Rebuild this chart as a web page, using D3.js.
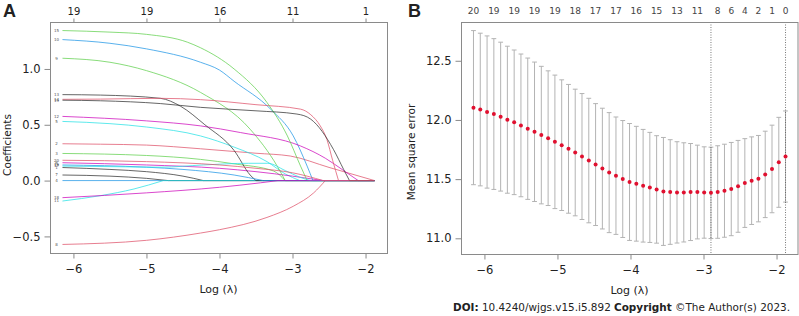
<!DOCTYPE html>
<html>
<head>
<meta charset="utf-8">
<script src="https://cdn.jsdelivr.net/npm/d3@7"></script>
<style>
  body { margin: 0; background: #fff; }
  svg { display: block; }
  text { font-family: 'DejaVu Sans', Verdana, sans-serif; fill: #222; }
</style>
</head>
<body>
<div id="chart"></div>
<script>
// ---- panel A: lasso coefficient paths, knots [log(lambda), coef]
const v1 = [[-6.15, 0.117], [-5.5, 0.10], [-5.0, 0.08], [-4.5, 0.04], [-4.22, 0]]
const v2 = [[-6.15, 0.33], [-5.63, 0.326], [-5.0, 0.318], [-4.26, 0.285], [-3.5, 0.245], [-3.03, 0.22], [-2.5, 0.118], [-1.877, 0]]
const v3 = [[-6.15, 0.243], [-5.0, 0.225], [-4.26, 0.19], [-3.8, 0.15], [-3.26, 0.086], [-3.1, 0]]
const v4 = [[-6.15, 0]]
const v5 = [[-6.15, 0.53], [-5.5, 0.51], [-5.0, 0.48], [-4.26, 0.40], [-3.8, 0.30], [-3.35, 0.17], [-3.1, 0.06], [-2.9, 0]]
const v6 = [[-6.15, 0.16], [-5.0, 0.14], [-4.0, 0.11], [-3.5, 0.08], [-3.0, 0.04], [-2.58, 0]]
const v7 = [[-6.15, 0.05], [-5.5, 0.04], [-5.0, 0.02], [-4.7, 0]]
const v8 = [[-6.15, -0.572], [-5.0, -0.535], [-4.26, -0.47], [-4.0, -0.44], [-3.35, -0.33], [-2.99, -0.23], [-2.71, -0.11], [-2.55, 0]]
const v9 = [[-6.15, 1.096], [-5.5, 1.06], [-5.0, 0.985], [-4.26, 0.79], [-3.58, 0.46], [-3.21, 0.13], [-3.1, 0]]
const v10 = [[-6.15, 1.263], [-5.5, 1.23], [-5.0, 1.18], [-4.26, 1.06], [-4.0, 0.99], [-3.8, 0.89], [-3.3, 0.64], [-2.99, 0.40], [-2.8, 0.13], [-2.72, 0]]
const v11 = [[-6.15, -0.183], [-5.63, -0.135], [-5.17, -0.075], [-4.77, 0]]
const v12 = [[-6.15, 0.575], [-5.0, 0.535], [-4.26, 0.49], [-3.71, 0.43], [-2.89, 0.31], [-2.55, 0.2], [-2.3, 0.09], [-2.1, 0]]
const v13 = [[-6.15, 0.77], [-5.63, 0.766], [-4.81, 0.737], [-4.53, 0.665], [-4.2, 0.5], [-3.8, 0.27], [-3.58, 0.05], [-3.5, 0]]
const v14 = [[-6.15, 0.728], [-5.63, 0.73], [-4.81, 0.737], [-4.26, 0.725], [-3.5, 0.68], [-2.89, 0.64], [-2.75, 0.59], [-2.62, 0.49], [-2.53, 0.37], [-2.45, 0.18], [-2.37, 0]]
const v15 = [[-6.15, 1.344], [-5.5, 1.33], [-5.0, 1.31], [-4.44, 1.24], [-4.26, 1.19], [-3.8, 1.0], [-3.35, 0.70], [-3.07, 0.40], [-2.89, 0.13], [-2.8, 0]]
const v16 = [[-6.15, 0.14], [-5.0, 0.12], [-4.5, 0.1], [-3.8, 0.05], [-3.4, 0]]
const v17 = [[-6.15, 0.13], [-5.5, 0.125], [-4.8, 0.12], [-4.22, 0.14], [-3.6, 0.155], [-3.34, 0.155], [-3.1, 0.09], [-2.9, 0.03], [-2.75, 0]]
const v18 = [[-6.15, -0.153], [-5.0, -0.11], [-4.0, -0.06], [-3.44, -0.02], [-3.2, 0]]
const v19 = [[-6.15, 0.72], [-5.63, 0.715], [-4.81, 0.69], [-4.26, 0.656], [-3.5, 0.625], [-2.94, 0.596], [-2.75, 0.55], [-2.44, 0.28], [-2.3, 0.10], [-2.22, 0]]
const v20 = [[-6.15, 0.182], [-5.0, 0.17], [-4.0, 0.14], [-3.5, 0.11], [-3.0, 0.07], [-2.58, 0]]
const coefPaths = [v1, v2, v3, v4, v5, v6, v7, v8, v9, v10, v11, v12, v13, v14, v15, v16, v17, v18, v19, v20]

const topTicksA = [-6, -5, -4, -3, -2]
const topLabelsA = [19, 19, 16, 11, 1]
const yTicksA = [-0.5, 0, 0.5, 1.0]

// ---- panel B: cross-validation curve
const logLambda = [-6.150, -6.057, -5.964, -5.871, -5.778, -5.686, -5.593, -5.500, -5.407, -5.314,
  -5.221, -5.128, -5.035, -4.942, -4.849, -4.757, -4.664, -4.571, -4.478, -4.385,
  -4.292, -4.199, -4.106, -4.013, -3.920, -3.827, -3.735, -3.642, -3.549, -3.456,
  -3.363, -3.270, -3.177, -3.084, -2.991, -2.898, -2.806, -2.713, -2.620, -2.527,
  -2.434, -2.341, -2.248, -2.155, -2.062, -1.969, -1.877]
const cvMean = [12.104, 12.088, 12.067, 12.050, 12.028, 12.002, 11.980, 11.954, 11.926, 11.900,
  11.872, 11.846, 11.815, 11.787, 11.756, 11.725, 11.691, 11.657, 11.623, 11.589,
  11.555, 11.529, 11.501, 11.476, 11.461, 11.444, 11.430, 11.413, 11.396, 11.391,
  11.388, 11.388, 11.391, 11.391, 11.387, 11.384, 11.391, 11.402, 11.416, 11.439,
  11.467, 11.487, 11.504, 11.540, 11.586, 11.642, 11.691]
const cvSd = [0.651, 0.645, 0.643, 0.637, 0.629, 0.621, 0.611, 0.603, 0.597, 0.589,
  0.581, 0.569, 0.564, 0.552, 0.544, 0.535, 0.532, 0.526, 0.515, 0.510,
  0.507, 0.496, 0.494, 0.494, 0.485, 0.476, 0.465, 0.454, 0.456, 0.442,
  0.428, 0.419, 0.410, 0.396, 0.386, 0.386, 0.391, 0.393, 0.394, 0.388,
  0.375, 0.370, 0.365, 0.365, 0.370, 0.380, 0.385]
const nzeroIdx = [0, 3, 6, 9, 12, 15, 18, 21, 24, 27, 30, 33, 36, 38, 40, 42, 44, 46]
const nzeroLabels = [20, 19, 19, 19, 19, 18, 17, 17, 16, 15, 13, 11, 8, 6, 4, 2, 1, 0]
const lambdaMin = -2.898
const lambda1se = -1.877
const xTicks = [-6, -5, -4, -3, -2]
const yTicksB = [11.0, 11.5, 12.0, 12.5]

const palette = ['#333333', '#DF536B', '#61D04F', '#2297E6', '#28E2E5', '#CD0BBC']

const svg = d3.select('#chart').append('svg')
  .attr('width', 799).attr('height', 316)
svg.append('rect').attr('width', 799).attr('height', 316).attr('fill', '#fff')

function pad(ext) {
  const d = (ext[1] - ext[0]) * 0.04
  return [ext[0] - d, ext[1] + d]
}

const lamExt = d3.extent(logLambda)

// ================= panel A =================
const boxA = { left: 50, right: 387, top: 22, bottom: 253 }
const allCoef = coefPaths.flat().map(d => d[1])
const xA = d3.scaleLinear().domain(pad(lamExt)).range([boxA.left, boxA.right])
const yA = d3.scaleLinear().domain(pad(d3.extent(allCoef))).range([boxA.bottom, boxA.top])

const gA = svg.append('g')

const lineA = d3.line()
  .x(d => xA(d[0]))
  .y(d => yA(d[1]))
  .curve(d3.curveMonotoneX)

coefPaths.forEach((pts, i) => {
  let dStr = pts.length > 1 ? lineA(pts) : 'M' + xA(pts[0][0]) + ',' + yA(pts[0][1])
  const last = pts[pts.length - 1]
  if (last[0] < lamExt[1]) dStr += 'L' + xA(lamExt[1]) + ',' + yA(0)
  gA.append('path')
    .attr('d', dStr)
    .attr('fill', 'none')
    .attr('stroke', palette[i % 6])
    .attr('stroke-width', 1)
    .attr('opacity', 0.75)
})

// variable numbers at the left end of each path
coefPaths.forEach((pts, i) => {
  gA.append('text')
    .text(i + 1)
    .attr('x', xA(pts[0][0]) - 6)
    .attr('y', yA(pts[0][1]) + 1.4)
    .attr('text-anchor', 'middle')
    .attr('font-size', '4px')
    .style('fill', '#555')
})

gA.append('rect')
  .attr('x', boxA.left + 0.5).attr('y', boxA.top + 0.5)
  .attr('width', boxA.right - boxA.left).attr('height', boxA.bottom - boxA.top)
  .attr('fill', 'none').attr('stroke', '#8a8a8a')

gA.append('g')
  .attr('transform', 'translate(0,' + (boxA.bottom + 0.5) + ')')
  .call(d3.axisBottom(xA).tickValues(xTicks).tickFormat(d3.format('d')).tickSize(5).tickPadding(6))
  .call(g => g.select('.domain').remove())
gA.append('g')
  .attr('transform', 'translate(0,' + (boxA.top + 0.5) + ')')
  .call(d3.axisTop(xA).tickValues(topTicksA).tickFormat((d, i) => topLabelsA[i]).tickSize(4).tickPadding(4))
  .call(g => g.select('.domain').remove())
  .selectAll('text').attr('font-size', '10px')
gA.append('g')
  .attr('transform', 'translate(' + (boxA.left + 0.5) + ',0)')
  .call(d3.axisLeft(yA).tickValues(yTicksA).tickFormat(d3.format('.1f')).tickSize(6).tickPadding(4))
  .call(g => g.select('.domain').remove())

gA.append('text').text('Log (λ)')
  .attr('x', (boxA.left + boxA.right) / 2).attr('y', 293)
  .attr('text-anchor', 'middle').attr('font-size', '11px')
gA.append('text').text('Coefficients')
  .attr('transform', 'translate(11,145) rotate(-90)')
  .attr('text-anchor', 'middle').attr('font-size', '10.5px')
gA.append('text').text('A')
  .attr('x', 3).attr('y', 17)
  .style('font-family', 'Liberation Sans, Arial, sans-serif')
  .attr('font-weight', 'bold').attr('font-size', '18px')

// ================= panel B =================
const boxB = { left: 461, right: 798, top: 22, bottom: 254 }
const lowers = cvMean.map((m, i) => m - cvSd[i])
const uppers = cvMean.map((m, i) => m + cvSd[i])
const xB = d3.scaleLinear().domain(pad(lamExt)).range([boxB.left, boxB.right])
const yB = d3.scaleLinear().domain(pad([d3.min(lowers), d3.max(uppers)])).range([boxB.bottom, boxB.top])

const gB = svg.append('g')

const bars = gB.selectAll('.bar').data(logLambda).enter().append('g').attr('class', 'bar')
bars.append('line')
  .attr('x1', d => xB(d)).attr('x2', d => xB(d))
  .attr('y1', (d, i) => yB(lowers[i])).attr('y2', (d, i) => yB(uppers[i]))
  .attr('stroke', '#b3b3b3').attr('stroke-width', 1)
bars.append('line')
  .attr('x1', d => xB(d) - 2.4).attr('x2', d => xB(d) + 2.4)
  .attr('y1', (d, i) => yB(uppers[i])).attr('y2', (d, i) => yB(uppers[i]))
  .attr('stroke', '#b3b3b3').attr('stroke-width', 1)
bars.append('line')
  .attr('x1', d => xB(d) - 2.4).attr('x2', d => xB(d) + 2.4)
  .attr('y1', (d, i) => yB(lowers[i])).attr('y2', (d, i) => yB(lowers[i]))
  .attr('stroke', '#b3b3b3').attr('stroke-width', 1)

gB.selectAll('.vline').data([lambdaMin, lambda1se]).enter().append('line')
  .attr('class', 'vline')
  .attr('x1', d => xB(d)).attr('x2', d => xB(d))
  .attr('y1', boxB.top).attr('y2', boxB.bottom)
  .attr('stroke', '#555').attr('stroke-width', 0.8)
  .attr('stroke-dasharray', '1,1.5')

gB.selectAll('.dot').data(logLambda).enter().append('circle')
  .attr('class', 'dot')
  .attr('cx', d => xB(d))
  .attr('cy', (d, i) => yB(cvMean[i]))
  .attr('r', 2)
  .attr('fill', '#e0102f')

gB.append('rect')
  .attr('x', boxB.left + 0.5).attr('y', boxB.top + 0.5)
  .attr('width', boxB.right - boxB.left - 0.5).attr('height', boxB.bottom - boxB.top)
  .attr('fill', 'none').attr('stroke', '#8a8a8a')

gB.append('g')
  .attr('transform', 'translate(0,' + (boxB.bottom + 0.5) + ')')
  .call(d3.axisBottom(xB).tickValues(xTicks).tickFormat(d3.format('d')).tickSize(5).tickPadding(6))
  .call(g => g.select('.domain').remove())
gB.append('g')
  .attr('transform', 'translate(' + (boxB.left + 0.5) + ',0)')
  .call(d3.axisLeft(yB).tickValues(yTicksB).tickFormat(d3.format('.1f')).tickSize(6).tickPadding(4))
  .call(g => g.select('.domain').remove())

gB.selectAll('.nz').data(nzeroIdx).enter().append('text')
  .attr('class', 'nz')
  .text((d, i) => nzeroLabels[i])
  .attr('x', d => xB(logLambda[d]))
  .attr('y', 13.5)
  .attr('text-anchor', 'middle')
  .attr('font-size', '9px')
  .style('fill', '#444')

gB.append('text').text('Log (λ)')
  .attr('x', (boxB.left + boxB.right) / 2).attr('y', 294)
  .attr('text-anchor', 'middle').attr('font-size', '11px')
gB.append('text').text('Mean square error')
  .attr('transform', 'translate(415,152) rotate(-90)')
  .attr('text-anchor', 'middle').attr('font-size', '10.5px')
gB.append('text').text('B')
  .attr('x', 408).attr('y', 17)
  .style('font-family', 'Liberation Sans, Arial, sans-serif')
  .attr('font-weight', 'bold').attr('font-size', '18px')

svg.selectAll('.tick text').attr('font-family', null).style('fill', '#222')
svg.selectAll('.tick line').attr('stroke', '#8a8a8a')
svg.selectAll('.tick text').filter(function () { return !this.getAttribute('font-size') || this.getAttribute('font-size') === '10' })
  .attr('font-size', '11.5px')

// source line
const doi = svg.append('text')
  .attr('x', 453).attr('y', 311)
  .attr('font-size', '10.5px')
  .attr('textLength', 337).attr('lengthAdjust', 'spacingAndGlyphs')
doi.append('tspan').text('DOI:').attr('font-weight', 'bold')
doi.append('tspan').text(' 10.4240/wjgs.v15.i5.892 ')
doi.append('tspan').text('Copyright').attr('font-weight', 'bold')
doi.append('tspan').text(' ©The Author(s) 2023.')
</script>
</body>
</html>
